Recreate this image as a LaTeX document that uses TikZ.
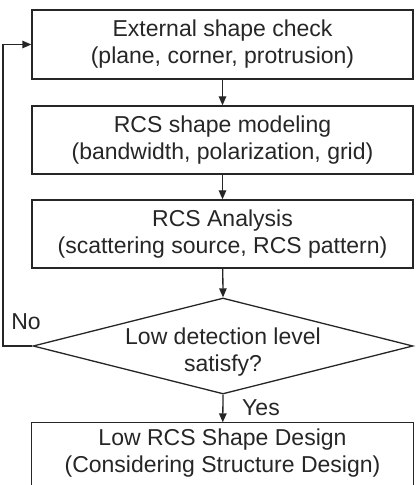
\documentclass[tikz,border=0pt]{standalone}
\usepackage{fontspec}
\setmainfont{Liberation Sans}
\usetikzlibrary{shapes.geometric,arrows.meta}
\begin{document}
\begin{tikzpicture}[x=1pt,y=1pt,
  boxline/.style={draw=black!85, line width=1.3pt},
  stepbox/.style={boxline, minimum width=381pt, inner sep=0pt, align=center, font=\fontsize{23}{27}\selectfont, text=black!85},
  decision/.style={boxline, diamond, minimum width=380pt, minimum height=96pt, inner sep=0pt},
  lbl/.style={font=\fontsize{23}{27}\selectfont, text=black!85, inner sep=0pt, align=center},
  conn/.style={boxline, -{Triangle[length=9pt,width=7.5pt]}}
]
\useasboundingbox (0,0) rectangle (419,485);
\node[stepbox, minimum height=69pt] (b1) at (222.5,{485-44.5}) {External shape check\\(plane, corner, protrusion)};
\node[stepbox, minimum height=68pt] (b2) at (222.5,{485-140}) {RCS shape modeling\\(bandwidth, polarization, grid)};
\node[stepbox, minimum height=68pt] (b3) at (222.5,{485-234}) {RCS Analysis\\(scattering source, RCS pattern)};
\node[decision] (d) at (223,{485-346}) {};
\node[lbl] (dt) at (223,{485-352}) {Low detection level\\satisfy?};
\node[stepbox, draw=none, minimum height=61pt] (b4) at (222.5,{485-453.5}) {Low RCS Shape Design\\(Considering Structure Design)};
\draw[boxline] (b4.north west) rectangle ([yshift=-20pt]b4.south east);
\coordinate (c1) at (3,{485-346});
\coordinate (c2) at (3,{485-44.5});
\draw[conn] (b1) -- (b2);
\draw[conn] (b2) -- (b3);
\draw[conn] (b3) -- (d.north);
\draw[conn] (d.south) -- (b4);
\draw[conn] (d.west) -- (c1) -- (c2) -- (b1.west);
\node[lbl] (no) at (26,{485-322}) {No};
\node[lbl] (yes) at (261,{485-408}) {Yes};
\end{tikzpicture}
\end{document}
